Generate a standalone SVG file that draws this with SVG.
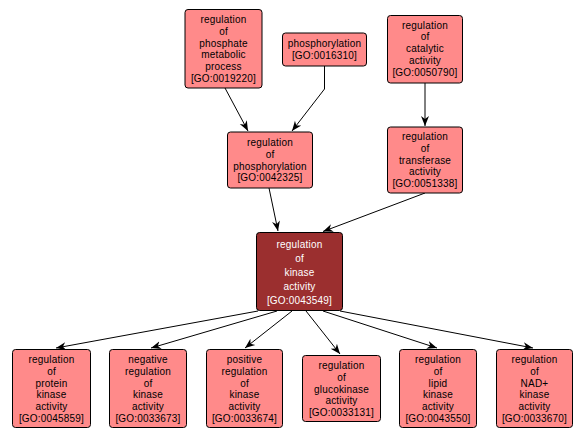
<svg xmlns="http://www.w3.org/2000/svg" width="587" height="438" viewBox="0 0 587 438">
<style>
.n rect{fill:#FF8A8A;stroke:#000;stroke-width:1}
.n.main rect{fill:#9B2F2F}
.n text{font-family:"Liberation Sans",Arial,sans-serif;font-size:10px;text-anchor:middle;fill:#000;letter-spacing:0.2px}
.n.main text{fill:#fff}
.e path{fill:none;stroke:#000;stroke-width:1;marker-end:url(#arr)}
</style>
<defs>
<marker id="arr" markerUnits="userSpaceOnUse" markerWidth="11" markerHeight="10" refX="10" refY="5" orient="auto">
<path d="M0,1 L10,5 L0,9 L3,5 z" fill="#000"/>
</marker>
</defs>
<rect width="587" height="438" fill="#fff"/>
<g id="edges" class="e">
<path d="M225,88 L248,131"/>
<path d="M324.5,66 L324.5,89 L292,131"/>
<path d="M425,83 L425,126"/>
<path d="M269,188 L278,231"/>
<path d="M425,193 L323,231.5"/>
<path d="M258,311 L56,348"/>
<path d="M277,311 L151,348"/>
<path d="M292,311 L245,348"/>
<path d="M306,311 L340,354"/>
<path d="M323,311 L437,348"/>
<path d="M340,311 L533,348"/>
</g>
<g id="GO0019220" class="n"><rect x="185" y="9.5" width="77" height="78.5" rx="3"/>
<text x="223.5"><tspan x="223.5" y="23">regulation</tspan><tspan x="223.5" y="34.8">of</tspan><tspan x="223.5" y="46.6">phosphate</tspan><tspan x="223.5" y="58.4">metabolic</tspan><tspan x="223.5" y="70.2">process</tspan><tspan x="223.5" y="82">[GO:0019220]</tspan></text></g>
<g id="GO0016310" class="n"><rect x="282.5" y="33" width="84" height="33" rx="3"/>
<text><tspan x="324.5" y="47">phosphorylation</tspan><tspan x="324.5" y="58.8">[GO:0016310]</tspan></text></g>
<g id="GO0050790" class="n"><rect x="387.5" y="15.5" width="75" height="67.5" rx="3"/>
<text><tspan x="425" y="28.5">regulation</tspan><tspan x="425" y="40.3">of</tspan><tspan x="425" y="52.1">catalytic</tspan><tspan x="425" y="63.9">activity</tspan><tspan x="425" y="75.7">[GO:0050790]</tspan></text></g>
<g id="GO0042325" class="n"><rect x="227.5" y="132" width="85" height="56" rx="3"/>
<text><tspan x="270" y="146">regulation</tspan><tspan x="270" y="157.8">of</tspan><tspan x="270" y="169.6">phosphorylation</tspan><tspan x="270" y="181.4">[GO:0042325]</tspan></text></g>
<g id="GO0051338" class="n"><rect x="387.5" y="127" width="75" height="66" rx="3"/>
<text><tspan x="425" y="140">regulation</tspan><tspan x="425" y="151.8">of</tspan><tspan x="425" y="163.6">transferase</tspan><tspan x="425" y="175.4">activity</tspan><tspan x="425" y="187.2">[GO:0051338]</tspan></text></g>
<g id="GO0043549" class="n main"><rect x="256.5" y="232.5" width="86" height="78" rx="3"/>
<text><tspan x="299.5" y="247.5">regulation</tspan><tspan x="299.5" y="261.5">of</tspan><tspan x="299.5" y="275.5">kinase</tspan><tspan x="299.5" y="289.5">activity</tspan><tspan x="299.5" y="303.5">[GO:0043549]</tspan></text></g>
<g id="GO0045859" class="n"><rect x="12.5" y="349.5" width="78" height="78" rx="3"/>
<text><tspan x="51.5" y="363">regulation</tspan><tspan x="51.5" y="374.8">of</tspan><tspan x="51.5" y="386.6">protein</tspan><tspan x="51.5" y="398.4">kinase</tspan><tspan x="51.5" y="410.2">activity</tspan><tspan x="51.5" y="422">[GO:0045859]</tspan></text></g>
<g id="GO0033673" class="n"><rect x="109.5" y="349.5" width="77" height="78" rx="3"/>
<text><tspan x="148" y="363">negative</tspan><tspan x="148" y="374.8">regulation</tspan><tspan x="148" y="386.6">of</tspan><tspan x="148" y="398.4">kinase</tspan><tspan x="148" y="410.2">activity</tspan><tspan x="148" y="422">[GO:0033673]</tspan></text></g>
<g id="GO0033674" class="n"><rect x="206.5" y="349.5" width="76" height="78" rx="3"/>
<text><tspan x="244.5" y="363">positive</tspan><tspan x="244.5" y="374.8">regulation</tspan><tspan x="244.5" y="386.6">of</tspan><tspan x="244.5" y="398.4">kinase</tspan><tspan x="244.5" y="410.2">activity</tspan><tspan x="244.5" y="422">[GO:0033674]</tspan></text></g>
<g id="GO0033131" class="n"><rect x="302.5" y="355.5" width="78" height="66" rx="3"/>
<text><tspan x="341.5" y="369">regulation</tspan><tspan x="341.5" y="380.8">of</tspan><tspan x="341.5" y="392.6">glucokinase</tspan><tspan x="341.5" y="404.4">activity</tspan><tspan x="341.5" y="416.2">[GO:0033131]</tspan></text></g>
<g id="GO0043550" class="n"><rect x="399.5" y="349.5" width="77" height="78" rx="3"/>
<text><tspan x="438" y="363">regulation</tspan><tspan x="438" y="374.8">of</tspan><tspan x="438" y="386.6">lipid</tspan><tspan x="438" y="398.4">kinase</tspan><tspan x="438" y="410.2">activity</tspan><tspan x="438" y="422">[GO:0043550]</tspan></text></g>
<g id="GO0033670" class="n"><rect x="496.5" y="349.5" width="76" height="78" rx="3"/>
<text><tspan x="534.5" y="363">regulation</tspan><tspan x="534.5" y="374.8">of</tspan><tspan x="534.5" y="386.6">NAD+</tspan><tspan x="534.5" y="398.4">kinase</tspan><tspan x="534.5" y="410.2">activity</tspan><tspan x="534.5" y="422">[GO:0033670]</tspan></text></g>
</svg>
